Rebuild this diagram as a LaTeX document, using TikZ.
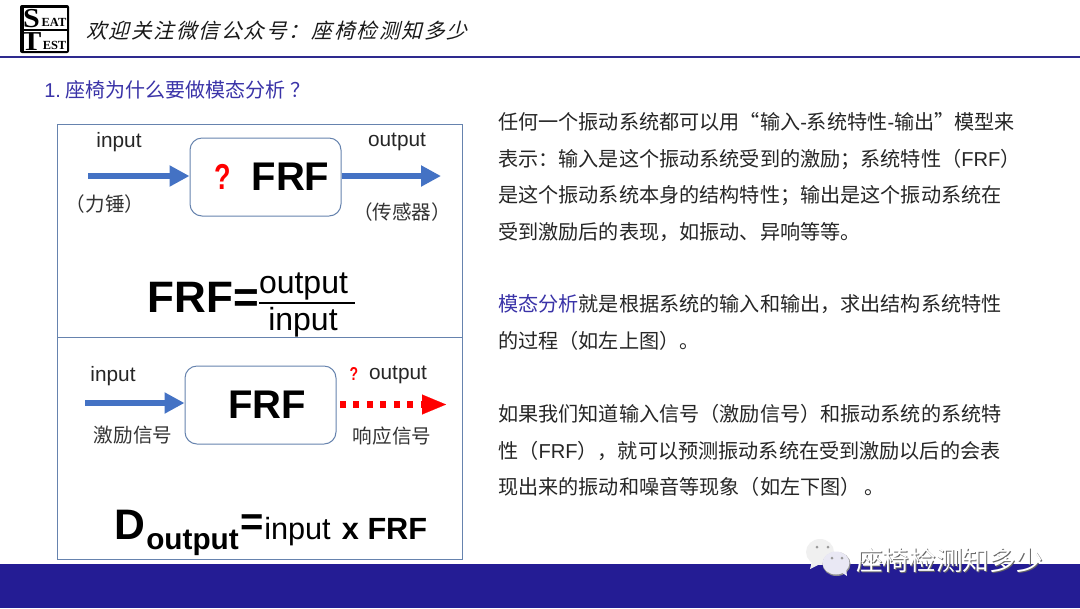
\documentclass[tikz,border=0pt]{standalone}
\usepackage{fontspec}
\setmainfont{Liberation Sans}
\newfontfamily\cjk{Noto Sans CJK SC}
\newfontfamily\cjkslant[FakeSlant=0.25,LetterSpace=9]{Noto Sans CJK SC}
\newfontfamily\logofont{Liberation Serif}
\newfontfamily\latinfont{Liberation Sans}
\usetikzlibrary{arrows.meta}
\definecolor{navy}{HTML}{241C94}
\definecolor{rule}{HTML}{2E2A8E}
\definecolor{frame}{HTML}{6683AE}
\definecolor{flow}{HTML}{4472C4}
\definecolor{body}{HTML}{262626}
\definecolor{title}{HTML}{3A33A8}
\tikzset{
  x=0.75pt,y=-0.75pt,
  para/.style={anchor=west,inner sep=0,font=\cjk\fontsize{15.1pt}{16pt}\selectfont,text=body},
  lab/.style={anchor=center,inner sep=0,font=\fontsize{15.6pt}{17pt}\selectfont,text=black!85},
  zhlab/.style={anchor=center,inner sep=0,font=\cjk\fontsize{14.7pt}{17pt}\selectfont,text=black!80},
  panel/.style={draw=frame,line width=0.75pt},
  sysbox/.style={draw=frame,line width=0.75pt,rounded corners=9pt,fill=white,inner sep=0},
  flowarrow/.style={draw=flow,line width=5pt,-{Triangle[length=15pt,width=15pt,fill=flow]}},
  big/.style={anchor=center,inner sep=0,font=\bfseries\fontsize{30pt}{32pt}\selectfont,text=black},
  logobig/.style={inner sep=0,font=\logofont\bfseries\fontsize{20.5pt}{20pt}\selectfont},
  logosmall/.style={inner sep=0,font=\logofont\bfseries\fontsize{9.3pt}{9pt}\selectfont},
}
\begin{document}
\begin{tikzpicture}
\useasboundingbox (0,0) rectangle (1080,608);
\fill[white] (0,0) rectangle (1080,608);
% header
\fill[black,rounded corners=1.5pt] (20,5) rectangle (69,53);
\fill[white] (24,8) rectangle (67,51);
\draw[black,line width=1.5pt] (21,29.5) -- (68,29.5);
\node[logobig,anchor=base] (logoS) at (31.5,27.5) {\scalebox{1.1}[1]{S}};
\node[logobig,anchor=base] (logoT) at (31.5,50.5) {\scalebox{1.1}[1]{T}};
\node[logosmall] (logoE) at (54,22) {EAT};
\node[logosmall] (logoF) at (54.5,45) {EST};
\node[anchor=west,inner sep=0,font=\cjkslant\fontsize{15.5pt}{16pt}\selectfont,text=black!90] (head) at (86,31) {欢迎关注微信公众号：座椅检测知多少};
\draw[rule,line width=2.2pt] (0,57) -- (1080,57);
\node[anchor=west,inner sep=0,text=title,font=\fontsize{15pt}{16pt}\selectfont] (sec) at (44,90) {1.\hspace{3.5pt}{\cjk 座椅为什么要做模态分析\hspace{4pt}？}};
% panels
\draw[panel] (57,124) rectangle (462,337);
\draw[panel] (57,337) rectangle (462,559);
% top diagram
\node[sysbox,minimum width=113.25pt,minimum height=58.5pt] (frf1) at (265.5,177) {};
\node[big] (frf1t) at (290.5,177) {FRF};
\node[inner sep=0,text=red,font=\bfseries\fontsize{27pt}{28pt}\selectfont] (q1) at (222.5,177) {\scalebox{0.75}[1]{?}};
\coordinate (in1) at (88,176);
\coordinate (out1) at (441,176);
\draw[flowarrow] (in1) -- (frf1.west |- in1);
\draw[flowarrow] (frf1.east |- out1) -- (out1);
\node[lab] (input1) at (119,142) {input};
\node[lab] (output1) at (397,142) {output};
\node[zhlab] (hammer) at (105,204) {（力锤）};
\node[zhlab] (sensor) at (402,212) {（传感器）};
\node[big,anchor=east,font=\bfseries\fontsize{33pt}{36pt}\selectfont] (frfeq) at (259,297) {FRF=};
\node[anchor=center,inner sep=0,font=\fontsize{24pt}{26pt}\selectfont,text=black] (fnum) at (303.5,286.5) {output};
\node[anchor=center,inner sep=0,font=\fontsize{24pt}{26pt}\selectfont,text=black] (fden) at (303,322) {input};
\coordinate (barl) at (259,303);
\coordinate (barr) at (355,303);
\draw[black,line width=1pt] (barl) -- (barr);
% bottom diagram
\node[sysbox,minimum width=113.25pt,minimum height=58.5pt] (frf2) at (260.5,405) {};
\node[big] (frf2t) at (267,405) {FRF};
\coordinate (in2) at (85,403);
\coordinate (out2) at (446,404.5);
\coordinate (dotstart) at (340,404.5);
\coordinate (dotend) at (424,404.5);
\coordinate (headstart) at (422,404.5);
\draw[flowarrow] (in2) -- (frf2.west |- in2);
\draw[red,line width=5pt,dash pattern=on 4.5pt off 5.6pt] (dotstart) -- (dotend);
\draw[red,line width=0.1pt,-{Triangle[length=18pt,width=15pt,fill=red]}] (headstart) -- (out2);
\node[lab] (input2) at (113,376) {input};
\node[inner sep=0,text=red,font=\bfseries\fontsize{14pt}{14pt}\selectfont] (q2) at (354,373.5) {\scalebox{0.75}[1]{?}};
\node[lab] (output2) at (398,375) {output};
\node[zhlab] (exc) at (133,435) {激励信号};
\node[zhlab] (resp) at (392,436) {响应信号};
\node[anchor=base west,inner sep=0,font=\bfseries\fontsize{32pt}{36pt}\selectfont,text=black] (dout) at (114,539) {D};
\node[anchor=base west,inner sep=0,font=\bfseries\fontsize{22.3pt}{25pt}\selectfont,text=black] (dsub) at (146,549) {output};
\node[anchor=base west,inner sep=0,font=\bfseries\fontsize{30pt}{32pt}\selectfont,text=black] (deq) at (240,535.5) {=};
\node[anchor=base west,inner sep=0,font=\fontsize{23pt}{25pt}\selectfont,text=black] (dinp) at (264,539) {input\hspace{2pt} {\bfseries x FRF}};
% paragraph
\node[para] (p1) at (498,122) {任何一个振动系统都可以用“输入{\latinfont -}系统特性{\latinfont -}输出”模型来};
\node[para] (p2) at (498,159) {表示：输入是这个振动系统受到的激励；系统特性（{\latinfont FRF}）};
\node[para] (p3) at (498,196) {是这个振动系统本身的结构特性；输出是这个振动系统在};
\node[para] (p4) at (498,232) {受到激励后的表现，如振动、异响等等。};
\node[para] (p5) at (498,304) {{\color{title}模态分析}就是根据系统的输入和输出，求出结构系统特性};
\node[para] (p6) at (498,341) {的过程（如左上图）。};
\node[para] (p7) at (498,414) {如果我们知道输入信号（激励信号）和振动系统的系统特};
\node[para] (p8) at (498,451) {性（{\latinfont FRF}），就可以预测振动系统在受到激励以后的会表};
\node[para] (p9) at (498,487) {现出来的振动和噪音等现象（如左下图）\,。};
% band
\fill[navy] (0,564) rectangle (1080,608);
% watermark
\fill[white!94!black] (820,552) ellipse [x radius=14,y radius=13];
\fill[white!94!black] (812,561) -- (810,569) -- (820,564) -- cycle;
\fill[black!45] (836.5,564) ellipse [x radius=14,y radius=12];
\fill[white!90!navy] (836,563) ellipse [x radius=13.5,y radius=11.5];
\fill[white!90!navy] (841,572) -- (847,576) -- (846,568) -- cycle;
\foreach \a/\b in {817/547,828/547,832/558,842/558} \fill[black!40] (\a,\b) circle (1.5);
\node[anchor=west,inner sep=0,text=black!60,font=\cjk\fontsize{20pt}{20pt}\selectfont] (wms) at (857,561) {座椅检测知多少};
\node[anchor=west,inner sep=0,text=white,font=\cjk\fontsize{20pt}{20pt}\selectfont] (wm) at (856,560) {座椅检测知多少};
\end{tikzpicture}
\end{document}
